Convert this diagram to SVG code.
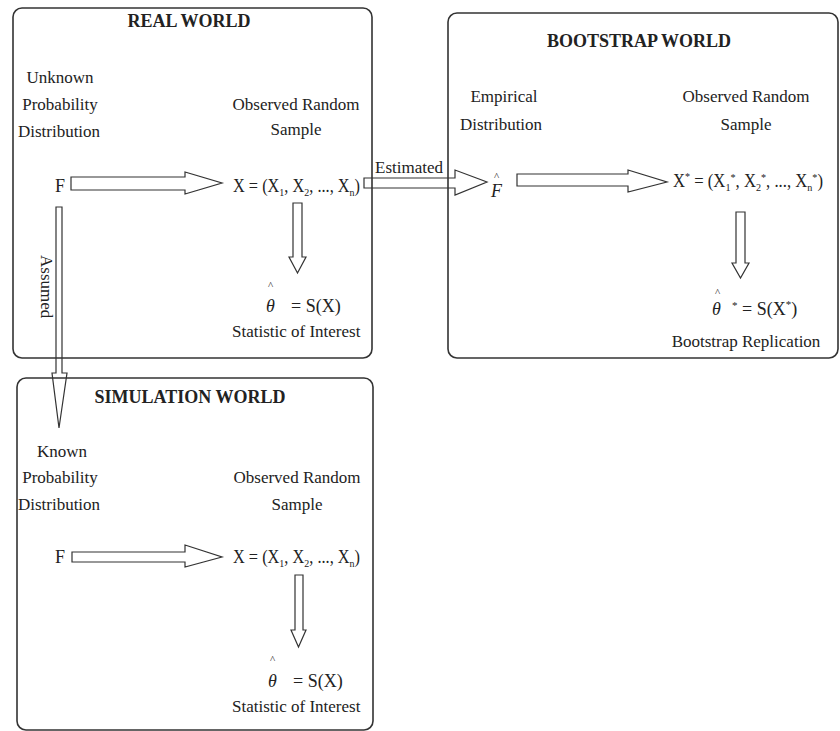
<svg xmlns="http://www.w3.org/2000/svg" width="840" height="731" viewBox="0 0 840 731">
<style>
.box{fill:none;stroke:#333;stroke-width:1.6}
.arr{fill:none;stroke:#333;stroke-width:1.2;stroke-linejoin:miter}
text{font-family:"Liberation Serif","Times New Roman",serif;fill:#222;font-size:17px}
.title{font-size:18px;font-weight:bold;text-anchor:middle}
.c{text-anchor:middle}
.big{font-size:18px}
.th{font-style:italic;font-size:18px}
.sub{font-size:11px}
</style>
<rect width="840" height="731" fill="#fff"/>
<g id="real-world">
<rect class="box" x="13" y="8" width="359" height="350" rx="9"/>
<text class="title" x="189" y="27">REAL WORLD</text>
<text class="c" x="60" y="83">Unknown</text>
<text class="c" x="60" y="110">Probability</text>
<text class="c" x="59" y="137">Distribution</text>
<text class="c" x="296" y="110">Observed Random</text>
<text class="c" x="296" y="135">Sample</text>
<text class="big" x="55" y="192">F</text>
<text class="big" x="233" y="192" textLength="127" lengthAdjust="spacingAndGlyphs">X = (X<tspan class="sub" dy="4">1</tspan><tspan dy="-4">, X</tspan><tspan class="sub" dy="4">2</tspan><tspan dy="-4">, ..., X</tspan><tspan class="sub" dy="4">n</tspan><tspan dy="-4">)</tspan></text>
<text class="sub" x="268" y="289">^</text>
<text class="th" x="266" y="312">θ</text>
<text class="big" x="291" y="312">= S(X)</text>
<text x="232" y="337">Statistic of Interest</text>
</g>
<g id="bootstrap-world">
<rect class="box" x="448" y="13" width="390" height="345" rx="9"/>
<text class="title" x="639" y="47">BOOTSTRAP WORLD</text>
<text class="c" x="504" y="102">Empirical</text>
<text class="c" x="501" y="130">Distribution</text>
<text class="c" x="746" y="102">Observed Random</text>
<text class="c" x="746" y="130">Sample</text>
<text class="sub" x="494" y="180">^</text>
<text class="th" x="491" y="197">F</text>
<text class="big" x="673" y="187" textLength="150" lengthAdjust="spacingAndGlyphs">X<tspan class="sub" dy="-7">*</tspan><tspan dy="7"> = (X</tspan><tspan class="sub" dy="4">1</tspan><tspan class="sub" dy="-10">*</tspan><tspan dy="6">, X</tspan><tspan class="sub" dy="4">2</tspan><tspan class="sub" dy="-10">*</tspan><tspan dy="6">, ..., X</tspan><tspan class="sub" dy="4">n</tspan><tspan class="sub" dy="-10">*</tspan><tspan dy="6">)</tspan></text>
<text class="sub" x="715" y="296">^</text>
<text class="th" x="712" y="315">θ</text>
<text class="big" x="732" y="315"><tspan class="sub" dy="-6">*</tspan><tspan dy="6"> = S(X</tspan><tspan class="sub" dy="-7">*</tspan><tspan dy="7">)</tspan></text>
<text class="c" x="746" y="347">Bootstrap Replication</text>
</g>
<g id="simulation-world">
<rect class="box" x="17" y="378" width="356" height="352" rx="9"/>
<text class="title" x="190" y="403">SIMULATION WORLD</text>
<text class="c" x="62" y="457">Known</text>
<text class="c" x="60" y="483">Probability</text>
<text class="c" x="59" y="510">Distribution</text>
<text class="c" x="297" y="483">Observed Random</text>
<text class="c" x="297" y="510">Sample</text>
<text class="big" x="55" y="563">F</text>
<text class="big" x="233" y="563" textLength="127" lengthAdjust="spacingAndGlyphs">X = (X<tspan class="sub" dy="4">1</tspan><tspan dy="-4">, X</tspan><tspan class="sub" dy="4">2</tspan><tspan dy="-4">, ..., X</tspan><tspan class="sub" dy="4">n</tspan><tspan dy="-4">)</tspan></text>
<text class="sub" x="270" y="663">^</text>
<text class="th" x="268" y="687">θ</text>
<text class="big" x="293" y="687">= S(X)</text>
<text x="232" y="712">Statistic of Interest</text>
</g>
<g id="connectors">
<polygon class="arr" points="71,177 185,177 185,172 222,183 185,194 185,190 71,190"/>
<polygon class="arr" points="293,203 302,203 302,257 306,257 297.5,273 289,257 293,257"/>
<polygon class="arr" points="364,178 455,178 455,170 487,182 455,195 455,188 364,188"/>
<text x="375" y="173">Estimated</text>
<polygon class="arr" points="517,174 628,174 628,170 667,182 628,192 628,186 517,186"/>
<polygon class="arr" points="736,212 745,212 745,263 749,263 740.5,278 732,263 736,263"/>
<polygon class="arr" points="56,207 62,207 62,373 67,373 59,428 52,373 56,373"/>
<text transform="translate(41,255) rotate(90)">Assumed</text>
<polygon class="arr" points="72,552 185,552 185,545 222,557 185,567 185,562 72,562"/>
<polygon class="arr" points="295,575 303,575 303,630 306,630 298.5,647 291,630 295,630"/>
</g>
</svg>
